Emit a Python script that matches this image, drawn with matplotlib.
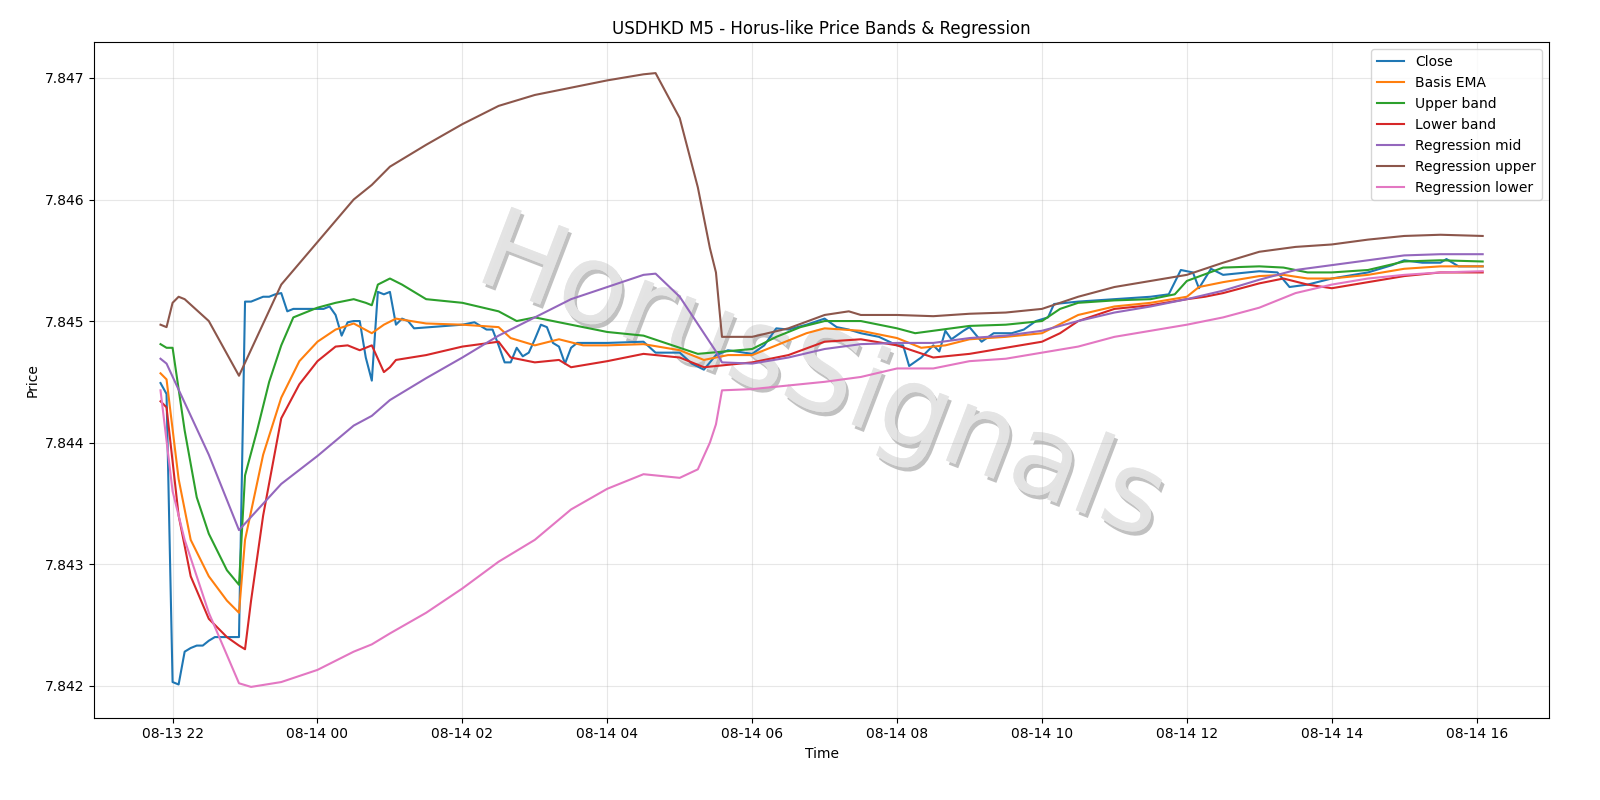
import matplotlib
matplotlib.use("Agg")
import matplotlib.pyplot as plt
import matplotlib.dates as mdates
import matplotlib.patheffects as pe
from matplotlib.ticker import FormatStrFormatter
import pandas as pd

# data (time of day, price)
close_t = ["13 21:50", "13 21:55", "13 22:00", "13 22:05", "13 22:10", "13 22:15", "13 22:20", "13 22:25",
           "13 22:30", "13 22:35", "13 22:55", "13 23:00", "13 23:05", "13 23:10", "13 23:15", "13 23:20",
           "13 23:25", "13 23:30", "13 23:35", "13 23:40", "14 00:05", "14 00:10", "14 00:15", "14 00:20",
           "14 00:25", "14 00:30", "14 00:35", "14 00:40", "14 00:45", "14 00:50", "14 00:55", "14 01:00",
           "14 01:05", "14 01:10", "14 01:15", "14 01:20", "14 02:00", "14 02:10", "14 02:20", "14 02:25",
           "14 02:30", "14 02:35", "14 02:40", "14 02:45", "14 02:50", "14 02:55", "14 03:00", "14 03:05",
           "14 03:10", "14 03:15", "14 03:20", "14 03:25", "14 03:30", "14 03:35", "14 04:00", "14 04:30",
           "14 04:40", "14 05:00", "14 05:10", "14 05:20", "14 05:30", "14 05:40", "14 06:00", "14 06:10",
           "14 06:20", "14 06:30", "14 06:45", "14 07:00", "14 07:10", "14 07:20", "14 07:30", "14 07:45",
           "14 08:00", "14 08:05", "14 08:10", "14 08:20", "14 08:30", "14 08:35", "14 08:40", "14 08:45",
           "14 08:55", "14 09:00", "14 09:10", "14 09:20", "14 09:35", "14 09:45", "14 09:55", "14 10:05",
           "14 10:10", "14 10:30", "14 11:00", "14 11:30", "14 11:45", "14 11:55", "14 12:05", "14 12:10",
           "14 12:20", "14 12:30", "14 13:00", "14 13:15", "14 13:25", "14 13:40", "14 14:00", "14 14:30",
           "14 14:50", "14 15:00", "14 15:15", "14 15:30", "14 15:35", "14 15:45", "14 16:05"]
close_v = [7.84449, 7.84440, 7.84203, 7.84201, 7.84228, 7.84231, 7.84233, 7.84233,
           7.84237, 7.84240, 7.84240, 7.84516, 7.84516, 7.84518, 7.84520, 7.84520,
           7.84522, 7.84523, 7.84508, 7.84510, 7.84510, 7.84512, 7.84505, 7.84488,
           7.84499, 7.84500, 7.84500, 7.84470, 7.84451, 7.84524, 7.84522, 7.84524,
           7.84497, 7.84502, 7.84500, 7.84494, 7.84497, 7.84499, 7.84493, 7.84493,
           7.84480, 7.84466, 7.84466, 7.84478, 7.84471, 7.84474, 7.84485, 7.84497,
           7.84495, 7.84482, 7.84479, 7.84465, 7.84478, 7.84482, 7.84482, 7.84483,
           7.84474, 7.84474, 7.84465, 7.84460, 7.84472, 7.84476, 7.84473, 7.84480,
           7.84494, 7.84493, 7.84497, 7.84502, 7.84495, 7.84493, 7.84490, 7.84487,
           7.84480, 7.84480, 7.84463, 7.84470, 7.84480, 7.84475, 7.84492, 7.84485,
           7.84492, 7.84495, 7.84483, 7.84490, 7.84490, 7.84493, 7.84500, 7.84503,
           7.84514, 7.84516, 7.84518, 7.84520, 7.84522, 7.84542, 7.84540, 7.84527,
           7.84543, 7.84538, 7.84541, 7.84540, 7.84528, 7.84530, 7.84535, 7.84540,
           7.84546, 7.84550, 7.84548, 7.84548, 7.84551, 7.84545, 7.84545]

basis_t = ["13 21:50", "13 21:55", "13 22:05", "13 22:15", "13 22:30", "13 22:45", "13 22:55", "13 23:00",
           "13 23:15", "13 23:30", "13 23:45", "14 00:00", "14 00:15", "14 00:30", "14 00:45", "14 00:55",
           "14 01:05", "14 01:30", "14 02:00", "14 02:30", "14 02:40", "14 03:00", "14 03:20", "14 03:40",
           "14 04:00", "14 04:30", "14 05:00", "14 05:20", "14 05:40", "14 06:00", "14 06:20", "14 06:45",
           "14 07:00", "14 07:30", "14 08:00", "14 08:20", "14 08:40", "14 09:00", "14 09:30", "14 10:00",
           "14 10:30", "14 11:00", "14 11:30", "14 12:00", "14 12:10", "14 12:30", "14 13:00", "14 13:20",
           "14 13:40", "14 14:00", "14 14:30", "14 15:00", "14 15:30", "14 16:05"]
basis_v = [7.84457, 7.84452, 7.84370, 7.84320, 7.84290, 7.84270, 7.84260, 7.84320,
           7.84390, 7.84437, 7.84467, 7.84483, 7.84493, 7.84498, 7.84490, 7.84497,
           7.84502, 7.84498, 7.84497, 7.84495, 7.84486, 7.84480, 7.84485, 7.84480,
           7.84480, 7.84481, 7.84476, 7.84468, 7.84472, 7.84472, 7.84480, 7.84490,
           7.84494, 7.84492, 7.84486, 7.84478, 7.84480, 7.84485, 7.84487, 7.84490,
           7.84505, 7.84512, 7.84515, 7.84520, 7.84528, 7.84532, 7.84537, 7.84538,
           7.84535, 7.84535, 7.84538, 7.84543, 7.84545, 7.84545]

upper_t = ["13 21:50", "13 21:55", "13 22:00", "13 22:10", "13 22:20", "13 22:30", "13 22:45", "13 22:55",
           "13 23:00", "13 23:10", "13 23:20", "13 23:30", "13 23:40", "14 00:00", "14 00:15", "14 00:30",
           "14 00:40", "14 00:45", "14 00:50", "14 01:00", "14 01:10", "14 01:30", "14 02:00", "14 02:30",
           "14 02:45", "14 03:00", "14 03:15", "14 03:30", "14 04:00", "14 04:30", "14 05:00", "14 05:15",
           "14 06:00", "14 06:20", "14 06:40", "14 07:00", "14 07:30", "14 08:00", "14 08:15", "14 08:30",
           "14 09:00", "14 09:30", "14 10:00", "14 10:15", "14 10:30", "14 11:00", "14 11:30", "14 11:50",
           "14 12:00", "14 12:30", "14 13:00", "14 13:20", "14 13:40", "14 14:00", "14 14:30", "14 15:00",
           "14 15:30", "14 16:05"]
upper_v = [7.84481, 7.84478, 7.84478, 7.84410, 7.84355, 7.84325, 7.84295, 7.84283,
           7.84373, 7.84410, 7.84450, 7.84480, 7.84503, 7.84511, 7.84515, 7.84518,
           7.84515, 7.84513, 7.84530, 7.84535, 7.84530, 7.84518, 7.84515, 7.84508,
           7.84500, 7.84503, 7.84500, 7.84497, 7.84491, 7.84488, 7.84478, 7.84473,
           7.84477, 7.84487, 7.84495, 7.84500, 7.84500, 7.84494, 7.84490, 7.84492,
           7.84496, 7.84497, 7.84500, 7.84510, 7.84515, 7.84517, 7.84518, 7.84522,
           7.84533, 7.84544, 7.84545, 7.84544, 7.84540, 7.84540, 7.84542, 7.84549,
           7.84550, 7.84549]

lower_t = ["13 21:50", "13 21:55", "13 22:05", "13 22:15", "13 22:30", "13 22:45", "13 22:55", "13 23:00",
           "13 23:05", "13 23:15", "13 23:30", "13 23:45", "14 00:00", "14 00:15", "14 00:25", "14 00:35",
           "14 00:45", "14 00:55", "14 01:00", "14 01:05", "14 01:30", "14 02:00", "14 02:30", "14 02:40",
           "14 03:00", "14 03:20", "14 03:30", "14 04:00", "14 04:30", "14 05:00", "14 05:20", "14 06:00",
           "14 06:30", "14 07:00", "14 07:30", "14 08:00", "14 08:30", "14 09:00", "14 09:30", "14 10:00",
           "14 10:15", "14 10:30", "14 11:00", "14 11:30", "14 12:00", "14 12:15", "14 12:30", "14 13:00",
           "14 13:20", "14 13:40", "14 14:00", "14 14:30", "14 15:00", "14 15:30", "14 16:05"]
lower_v = [7.84434, 7.84429, 7.84340, 7.84290, 7.84255, 7.84240, 7.84233, 7.84230,
           7.84270, 7.84340, 7.84420, 7.84448, 7.84467, 7.84479, 7.84480, 7.84476,
           7.84480, 7.84458, 7.84462, 7.84468, 7.84472, 7.84479, 7.84483, 7.84470,
           7.84466, 7.84468, 7.84462, 7.84467, 7.84473, 7.84470, 7.84462, 7.84466,
           7.84472, 7.84483, 7.84485, 7.84480, 7.84470, 7.84473, 7.84478, 7.84483,
           7.84490, 7.84500, 7.84510, 7.84513, 7.84518, 7.84520, 7.84523, 7.84531,
           7.84535, 7.84530, 7.84527, 7.84532, 7.84537, 7.84540, 7.84540]

reg_t = ["13 21:50", "13 21:55", "13 22:30", "13 22:55", "13 23:30", "14 00:00", "14 00:30", "14 00:45",
         "14 01:00", "14 01:30", "14 02:00", "14 02:30", "14 03:00", "14 03:30", "14 04:00", "14 04:30",
         "14 04:40", "14 05:00", "14 05:30", "14 05:35", "14 06:00", "14 06:30", "14 07:00", "14 07:30",
         "14 08:00", "14 08:30", "14 09:00", "14 09:30", "14 10:00", "14 10:30", "14 11:00", "14 11:30",
         "14 12:00", "14 12:30", "14 13:00", "14 13:30", "14 14:00", "14 14:30", "14 15:00", "14 15:30",
         "14 16:05"]
reg_mid_v = [7.84469, 7.84465, 7.84390, 7.84328, 7.84366, 7.84389, 7.84414, 7.84422,
             7.84435, 7.84453, 7.84470, 7.84488, 7.84503, 7.84518, 7.84528, 7.84538,
             7.84539, 7.84520, 7.84475, 7.84466, 7.84465, 7.84470, 7.84477, 7.84481,
             7.84482, 7.84482, 7.84486, 7.84488, 7.84492, 7.84500, 7.84507, 7.84512,
             7.84518, 7.84525, 7.84534, 7.84542, 7.84546, 7.84550, 7.84554, 7.84555,
             7.84555]

regu_t = ["13 21:50", "13 21:55", "13 22:00", "13 22:05", "13 22:10", "13 22:30", "13 22:55", "13 23:30",
          "14 00:00", "14 00:30", "14 00:45", "14 01:00", "14 01:30", "14 02:00", "14 02:30", "14 03:00",
          "14 03:30", "14 04:00", "14 04:30", "14 04:40", "14 05:00", "14 05:15", "14 05:25", "14 05:30",
          "14 05:35", "14 06:00", "14 06:30", "14 07:00", "14 07:20", "14 07:30", "14 08:00", "14 08:30",
          "14 09:00", "14 09:30", "14 10:00", "14 10:30", "14 11:00", "14 11:30", "14 12:00", "14 12:30",
          "14 13:00", "14 13:30", "14 14:00", "14 14:30", "14 15:00", "14 15:30", "14 16:05"]
reg_up_v = [7.84497, 7.84495, 7.84515, 7.84520, 7.84518, 7.84500, 7.84455, 7.84530,
            7.84565, 7.84600, 7.84612, 7.84627, 7.84645, 7.84662, 7.84677, 7.84686,
            7.84692, 7.84698, 7.84703, 7.84704, 7.84667, 7.84610, 7.84560, 7.84540,
            7.84487, 7.84487, 7.84494, 7.84505, 7.84508, 7.84505, 7.84505, 7.84504,
            7.84506, 7.84507, 7.84510, 7.84520, 7.84528, 7.84533, 7.84538, 7.84548,
            7.84557, 7.84561, 7.84563, 7.84567, 7.84570, 7.84571, 7.84570]

regl_t = ["13 21:50", "13 22:00", "13 22:10", "13 22:30", "13 22:55", "13 23:05", "13 23:30", "14 00:00",
          "14 00:30", "14 00:45", "14 01:00", "14 01:30", "14 02:00", "14 02:30", "14 03:00", "14 03:30",
          "14 04:00", "14 04:30", "14 05:00", "14 05:15", "14 05:25", "14 05:30", "14 05:35", "14 06:00",
          "14 06:30", "14 07:00", "14 07:30", "14 08:00", "14 08:30", "14 09:00", "14 09:30", "14 10:00",
          "14 10:30", "14 11:00", "14 11:30", "14 12:00", "14 12:30", "14 13:00", "14 13:30", "14 14:00",
          "14 14:30", "14 15:00", "14 15:30", "14 16:05"]
reg_lo_v = [7.84443, 7.84360, 7.84320, 7.84260, 7.84202, 7.84199, 7.84203, 7.84213,
            7.84228, 7.84234, 7.84243, 7.84260, 7.84280, 7.84302, 7.84320, 7.84345,
            7.84362, 7.84374, 7.84371, 7.84378, 7.84400, 7.84415, 7.84443, 7.84444,
            7.84447, 7.84450, 7.84454, 7.84461, 7.84461, 7.84467, 7.84469, 7.84474,
            7.84479, 7.84487, 7.84492, 7.84497, 7.84503, 7.84511, 7.84523, 7.84530,
            7.84535, 7.84538, 7.84540, 7.84541]


def ts(lst):
    return pd.to_datetime(["2025-08-" + s for s in lst])


fig, ax = plt.subplots(figsize=(16, 8), dpi=100)
fig.subplots_adjust(left=0.059, right=0.968, top=0.947, bottom=0.103)

ax.plot(ts(close_t), close_v, color="#1f77b4", lw=1.5, label="Close")
ax.plot(ts(basis_t), basis_v, color="#ff7f0e", lw=1.5, label="Basis EMA")
ax.plot(ts(upper_t), upper_v, color="#2ca02c", lw=1.5, label="Upper band")
ax.plot(ts(lower_t), lower_v, color="#d62728", lw=1.5, label="Lower band")
ax.plot(ts(reg_t), reg_mid_v, color="#9467bd", lw=1.5, label="Regression mid")
ax.plot(ts(regu_t), reg_up_v, color="#8c564b", lw=1.5, label="Regression upper")
ax.plot(ts(regl_t), reg_lo_v, color="#e377c2", lw=1.5, label="Regression lower")

# watermark
ax.text(0.5, 0.5, "HorusSignals", transform=ax.transAxes, fontsize=80, color="#e4e4e4",
        alpha=0.9, rotation=-21, ha="center", va="center", zorder=1.5,
        path_effects=[pe.withSimplePatchShadow(offset=(2, -3), shadow_rgbFace="#999999", alpha=0.6),
                      pe.Normal()])

ax.set_title("USDHKD M5 - Horus-like Price Bands & Regression")
ax.set_xlabel("Time")
ax.set_ylabel("Price")
ax.xaxis.set_major_locator(mdates.HourLocator(interval=2))
ax.xaxis.set_major_formatter(mdates.DateFormatter("%m-%d %H"))
ax.yaxis.set_major_formatter(FormatStrFormatter("%.3f"))
ax.grid(True, alpha=0.3)
ax.legend(loc="upper right")

fig.savefig("out.png")
